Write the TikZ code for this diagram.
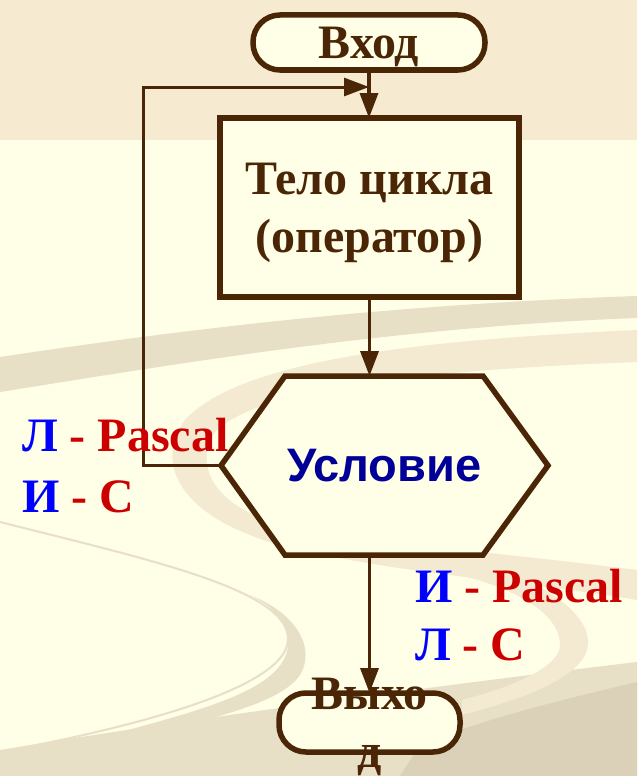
\documentclass[tikz,border=0pt]{standalone}
\usepackage{fontspec}
\setmainfont{Liberation Serif}
\newfontfamily\sansfnt{Liberation Sans}
\usetikzlibrary{arrows.meta}
\definecolor{brn}{HTML}{4A2606}
\definecolor{cream}{HTML}{FFFEE6}
\definecolor{topband}{HTML}{F6EBD1}
\definecolor{bgdark}{HTML}{E8DFC7}
\definecolor{bglight}{HTML}{F3EAD1}
\definecolor{bgdeep}{HTML}{DBD1B9}
\definecolor{cblue}{HTML}{0000FF}
\definecolor{cred}{HTML}{CC0000}
\definecolor{navy}{HTML}{000099}
\begin{document}
\begin{tikzpicture}[x=1pt,y=-1pt,
  term/.style={draw=brn, line width=5.5pt, fill=cream, rounded corners=27pt, inner sep=0pt, outer sep=0pt},
  boxshape/.style={draw=brn, line width=5.5pt, fill=cream, inner sep=0pt, outer sep=0pt},
  ttxt/.style={font=\fontsize{48}{58}\selectfont\bfseries, text=brn},
  lbl/.style={font=\fontsize{48}{58}\selectfont\bfseries, inner sep=0pt, text=cred},
  conn/.style={draw=brn, line width=3.5pt, -{Triangle[length=25pt,width=18pt]}}
]
% background
\useasboundingbox (0,0) rectangle (637,776);
\fill[cream] (0,0) rectangle (637,776);
\fill[topband] (0,0) rectangle (637,140);
\fill[bgdark] (0,357) .. controls (180,330) and (380,305) .. (637,296) -- (637,318) .. controls (400,327) and (200,360) .. (0,392) -- cycle;
\fill[bglight] (637,330) .. controls (420,340) and (240,360) .. (185,420) .. controls (150,470) and (190,520) .. (280,545) .. controls (400,575) and (520,580) .. (637,600) -- (637,570) .. controls (520,555) and (400,545) .. (300,530) .. controls (230,515) and (195,480) .. (210,440) .. controls (235,390) and (420,370) .. (637,362) -- cycle;
\fill[bgdark] (0,750) .. controls (150,725) and (400,690) .. (637,662) -- (637,776) -- (0,776) -- cycle;
\fill[bgdeep] (637,682) .. controls (560,700) and (480,720) .. (420,745) -- (400,776) -- (637,776) -- cycle;
\fill[bgdark] (250,595) .. controls (300,615) and (315,650) .. (300,675) .. controls (280,705) and (200,722) .. (120,740) -- (110,735) .. controls (200,710) and (285,690) .. (288,645) .. controls (289,620) and (270,605) .. (250,595) -- cycle;
\draw[bgdark, line width=2pt] (0,522) .. controls (150,560) and (290,590) .. (288,640) .. controls (286,690) and (120,730) .. (0,752);
\fill[bglight] (470,560) .. controls (560,585) and (600,625) .. (585,655) .. controls (570,685) and (500,705) .. (462,715) -- (462,700) .. controls (520,685) and (560,665) .. (560,645) .. controls (560,615) and (520,590) .. (460,575) -- cycle;

% nodes
\node[term, ttxt, minimum width=232pt, minimum height=55pt, text depth=0pt] (vhod) at (369,42.5) {Вход};
\node[boxshape, ttxt, minimum width=299pt, minimum height=179pt, align=center, text depth=0pt] (body) at (369.5,207.5) {Тело цикла\\(оператор)};
\node[minimum width=327pt, minimum height=179pt, inner sep=0pt, outer sep=0pt] (cond) at (384.5,465.5) {};
\filldraw[draw=brn, fill=cream, line width=5.5pt] (cond.west) -- ([xshift=64pt]cond.north west) -- ([xshift=-65pt]cond.north east) -- (cond.east) -- ([xshift=-65pt]cond.south east) -- ([xshift=64pt]cond.south west) -- cycle;
\node[font=\sansfnt\fontsize{47}{56}\selectfont\bfseries, text=navy] (condtext) at (cond.center) {Условие};
\node[term, minimum width=181pt, minimum height=59pt] (exit) at (369.5,722.5) {};
\node[ttxt, align=center, inner sep=0pt] (exittext) at (369.5,727) {Выхо\\д};

% connectors
\coordinate (corner) at (143,87);
\coordinate (merge) at (369,87);
\draw[conn] (vhod.south) -- (vhod.south |- body.north);
\draw[conn, line width=3pt] (cond.west) -| (corner) -- (merge);
\draw[conn] (body.south) -- (body.south |- cond.north);
\draw[conn] (body.south |- cond.south) -- (body.south |- exit.north);

% labels
\node[lbl, anchor=base west] (lp1) at (22,451) {{\color{cblue}Л} - Pascal};
\node[lbl, anchor=base west] (lc1) at (22,512) {{\color{cblue}И} - С};
\node[lbl, anchor=base west] (lp2) at (415,602) {{\color{cblue}И} - Pascal};
\node[lbl, anchor=base west] (lc2) at (415,660) {{\color{cblue}Л} - С};
\end{tikzpicture}
\end{document}
